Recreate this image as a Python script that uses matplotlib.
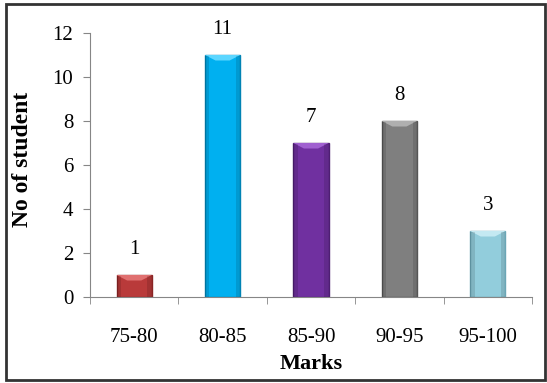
import numpy as np
import matplotlib.pyplot as plt
from matplotlib.patches import Polygon, Rectangle

marks = ['75-80', '80-85', '85-90', '90-95', '95-100']
students = [1, 11, 7, 8, 3]
colors = ['#B93A3A', '#00B0F0', '#7030A0', '#7F7F7F', '#92CDDC']
edges = ['#8A2424', '#0083B4', '#4E1F73', '#555555', '#6AA6B6']
tops = ['#E07070', '#5CD6FF', '#A060D0', '#AFAFAF', '#C4E9F2']

plt.rcParams['font.family'] = ['Liberation Serif', 'DejaVu Serif']
fs = 15

fig = plt.figure(figsize=(5.47, 3.83), dpi=100)
ax = fig.add_axes([90 / 547, 1 - 297 / 383, (532 - 90) / 547, (297 - 33) / 383])

x = np.arange(len(marks))
width = 0.4
bars = ax.bar(x, students, width=width, color=colors, edgecolor=edges,
              linewidth=1.0, zorder=2)

# bevel highlight on top of each bar
for b, tc in zip(bars, tops):
    x0, w, h = b.get_x(), b.get_width(), b.get_height()
    d = 0.12
    ax.add_patch(Polygon([[x0, h], [x0 + w, h], [x0 + w - d, h - 0.25],
                          [x0 + d, h - 0.25]], closed=True,
                         facecolor=tc, edgecolor='none', zorder=3))
    # darker side shading
    ax.add_patch(Rectangle((x0, 0), 0.05, h - 0.05, facecolor='black',
                           alpha=0.12, edgecolor='none', zorder=3))
    ax.add_patch(Rectangle((x0 + w - 0.05, 0), 0.05, h - 0.05,
                           facecolor='black', alpha=0.12, edgecolor='none',
                           zorder=3))

for xi, v in zip(x, students):
    ax.text(xi, v + 0.72, str(v), ha='center', va='bottom', fontsize=fs,
            clip_on=False)

ax.set_xlim(-0.5, len(marks) - 0.5)
ax.set_ylim(0, 12)
ax.set_yticks(range(0, 13, 2))
ax.set_xticks(x)
ax.set_xticklabels(marks, fontsize=fs)
ax.tick_params(axis='y', labelsize=fs, length=5, color='#868686',
               direction='out', pad=7)
ax.tick_params(axis='x', length=0, pad=22)
ax.set_xticks(np.arange(-0.5, len(marks), 1), minor=True)
ax.tick_params(axis='x', which='minor', length=5, color='#868686',
               direction='out')

for s in ['top', 'right']:
    ax.spines[s].set_visible(False)
for s in ['left', 'bottom']:
    ax.spines[s].set_color('#868686')

ax.set_ylabel('No of student', fontsize=17, fontweight='bold')
ax.set_xlabel('Marks', fontsize=16, fontweight='bold')
ax.yaxis.set_label_coords((23 - 90) / 442, 0.52)
ax.xaxis.set_label_coords(0.5, -(364 - 297) / 264)
ax.xaxis.label.set_va('center')
ax.yaxis.label.set_va('center')

# outer frame
fig.patches.append(Rectangle((6 / 547, 3 / 383), 539 / 547, 376 / 383,
                             transform=fig.transFigure, fill=False,
                             edgecolor='#333333', linewidth=2))

fig.savefig('out.png', dpi=100)
